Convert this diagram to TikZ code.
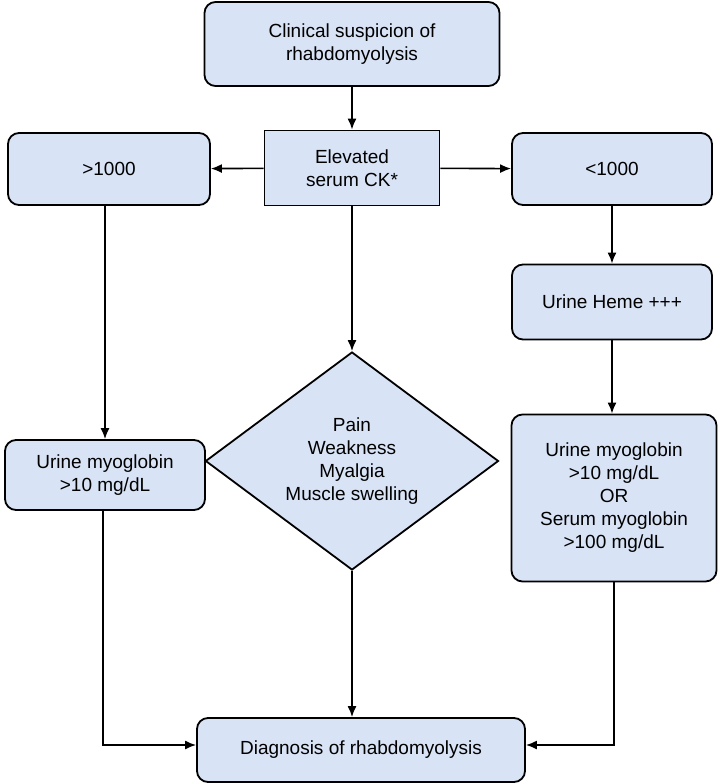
\documentclass[tikz,border=0pt]{standalone}
\usepackage{fontspec}
\setmainfont{Liberation Sans}
\usetikzlibrary{shapes.geometric, arrows.meta}
\definecolor{boxblue}{HTML}{D8E3F5}

\begin{document}
\begin{tikzpicture}[x=1pt,y=-1pt]
\useasboundingbox (0,0) rectangle (720,784);
\tikzstyle{every node}=[draw,
                        line width=1.8pt,
                        fill=boxblue,
                        align=center,
                        inner sep=0pt,
                        font=\fontsize{19}{23}\selectfont
                        ]
\tikzstyle{rbox}=[rounded corners=11pt]
\tikzstyle{link}=[line width=1.6pt, -{Latex[length=11pt,width=9pt]}]

\node[rbox, minimum width=295, minimum height=84] (susp) at (352,44) {Clinical suspicion of\\rhabdomyolysis};
\node[minimum width=175, minimum height=75] (ck) at (352,168) {Elevated\\serum CK*};
\node[rbox, minimum width=202, minimum height=72] (high) at (109,169) {>1000};
\node[rbox, minimum width=200, minimum height=72] (low) at (612,169) {<1000};
\node[rbox, minimum width=200, minimum height=75] (heme) at (612,302) {Urine Heme +++};
\node[diamond, aspect=1.35, minimum width=293, minimum height=218] (symp) at (352,461) {Pain\\Weakness\\Myalgia\\Muscle swelling};
\node[rbox, minimum width=200, minimum height=70] (myoL) at (105,475) {Urine myoglobin\\>10 mg/dL};
\node[rbox, minimum width=205, minimum height=167] (myoR) at (614,498) {Urine myoglobin\\>10 mg/dL\\OR\\Serum myoglobin\\>100 mg/dL};
\node[rbox, minimum width=328, minimum height=64] (diag) at (361,750) {Diagnosis of rhabdomyolysis};

\coordinate (cL) at (103,745);
\coordinate (cR) at (614,745);

\draw[link] (susp) -- (ck);
\draw[link] (ck) -- (high);
\draw[link] (ck) -- (low);
\draw[link] (low) -- (heme);
\draw[link] (heme) -- (heme |- myoR.north);
\draw[link] (high.south -| myoL.north) -- (myoL);
\draw[link] (ck) -- (symp);
\draw[link] (symp) -- (symp.south |- diag.north);
\draw[link] (myoL.south -| cL) -- (cL) -- (cL -| diag.west);
\draw[link] (myoR) -- (cR) -- (cR -| diag.east);

\end{tikzpicture}
\end{document}
